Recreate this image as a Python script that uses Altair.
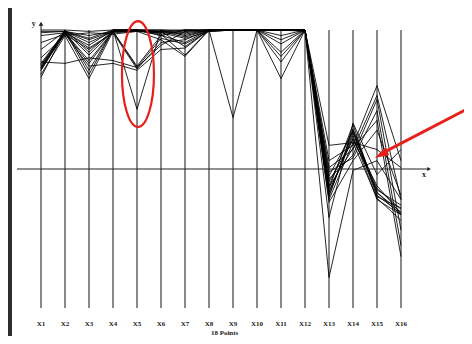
import altair as alt
import pandas as pd

# ---------------- data (axis range -1 .. 1) ----------------
axis_ids = list(range(1, 17))
axis_labels = [f"X{k}" for k in axis_ids]
x_title = "18 Points"

x1 = [1.00, 0.99, 0.98, 0.96, 0.91, 0.86, 0.80, 0.77, 0.76, 0.75, 0.74, 0.73, 0.73, 0.72, 0.71, 0.71, 0.68, 0.66]
x2 = [1.00, 0.99, 0.99, 0.98, 0.97, 0.99, 0.96, 0.76, 0.99, 0.98, 1.00, 0.99, 0.97, 0.99, 0.98, 1.00, 0.96, 0.99]
x3 = [0.99, 0.96, 0.93, 0.89, 0.86, 0.82, 0.65, 0.80, 0.68, 0.76, 0.71, 0.87, 0.74, 0.91, 0.78, 0.84, 0.98, 0.94]
x4 = [1.00, 0.99, 0.99, 1.00, 0.98, 0.99, 0.99, 0.78, 1.00, 0.99, 1.00, 0.98, 0.76, 0.99, 0.99, 1.00, 0.97, 1.00]
x5 = [1.00, 1.00, 0.99, 1.00, 0.99, 1.00, 0.99, 0.73, 0.43, 0.73, 1.00, 0.72, 0.71, 0.99, 0.74, 1.00, 0.99, 1.00]
x6 = [1.00, 0.99, 0.98, 0.96, 0.99, 0.96, 0.93, 0.89, 1.00, 0.94, 0.97, 0.91, 0.86, 0.99, 0.96, 0.99, 0.98, 1.00]
x7 = [1.00, 0.97, 0.94, 0.91, 0.88, 1.00, 0.81, 0.99, 0.96, 0.90, 0.82, 0.93, 0.87, 0.98, 1.00, 0.95, 1.00, 0.99]
x8 = [1.00, 1.00, 0.99, 1.00, 1.00, 0.99, 1.00, 1.00, 1.00, 0.99, 1.00, 1.00, 1.00, 1.00, 1.00, 1.00, 1.00, 1.00]
x9 = [1.00, 1.00, 1.00, 1.00, 0.37, 1.00, 1.00, 1.00, 1.00, 1.00, 1.00, 1.00, 1.00, 1.00, 1.00, 1.00, 1.00, 1.00]
x10 = [1.00] * 18
x11 = [1.00, 1.00, 0.93, 1.00, 1.00, 0.84, 1.00, 0.77, 1.00, 0.65, 1.00, 0.90, 1.00, 0.81, 1.00, 1.00, 0.96, 1.00]
x12 = [1.00, 1.00, 1.00, 1.00, 1.00, 1.00, 0.99, 1.00, 1.00, 1.00, 1.00, 1.00, 1.00, 1.00, 1.00, 1.00, 1.00, 1.00]
x13 = [-0.12, -0.14, -0.05, -0.17, 0.01, 0.06, -0.20, -0.07, -0.09, -0.02, -0.16, -0.19, -0.13, -0.22, -0.24, 0.17, -0.35, -0.78]
x14 = [0.29, 0.32, 0.27, 0.24, 0.14, 0.17, 0.28, 0.10, 0.21, 0.08, 0.22, 0.26, 0.15, 0.19, 0.06, 0.19, 0.33, -0.01]
x15 = [-0.17, -0.19, -0.14, -0.22, 0.53, 0.60, -0.20, 0.50, -0.12, 0.42, -0.15, -0.17, 0.35, -0.21, 0.28, 0.14, -0.04, 0.06]
x16 = [-0.31, -0.32, -0.29, -0.33, -0.22, 0.06, -0.28, -0.44, -0.32, -0.55, -0.26, -0.33, -0.63, -0.37, -0.19, 0.01, 0.14, -0.22]

columns = [x1, x2, x3, x4, x5, x6, x7, x8, x9, x10, x11, x12, x13, x14, x15, x16]

rows = []
for a, vals in zip(axis_ids, columns):
    for p, v in enumerate(vals, start=1):
        rows.append({"axis": a, "point": p, "value": v})
df = pd.DataFrame(rows)

axes_df = pd.DataFrame({
    "axis": axis_ids,
    "label": axis_labels,
    "lo": [-1.0] * 16,
    "hi": [1.05] + [1.0] * 15,
})

# ---------------- scales ----------------
xs = alt.Scale(domain=[0, 17.25], nice=False, zero=False)
ys = alt.Scale(domain=[-1, 1], nice=False, zero=False)

FONT = "Liberation Serif"
RED = "#e8201a"
INK = "#1a1a1a"


def one(**kw):
    return alt.Chart(pd.DataFrame([kw if kw else {"k": 0}]))


# left dark strip of the scanned page
strip = one().mark_rect(color="#2e2e2e").encode(
    x=alt.value(-9), x2=alt.value(-5), y=alt.value(-22), y2=alt.value(306)
)

# vertical parallel axes
vaxes = alt.Chart(axes_df).mark_rule(color="#3a3a3a", strokeWidth=1.2).encode(
    x=alt.X("axis:Q", scale=xs, axis=None),
    y=alt.Y("lo:Q", scale=ys, axis=None),
    y2="hi:Q",
)

# axis name labels under each parallel axis
axis_text = alt.Chart(axes_df).mark_text(
    font=FONT, fontSize=7, fontWeight="bold", color=INK, baseline="middle"
).encode(
    x=alt.X("axis:Q", scale=xs, axis=None),
    y=alt.value(294),
    text="label:N",
)

title_text = one(t=x_title).mark_text(
    font=FONT, fontSize=7, fontWeight="bold", color=INK, baseline="middle"
).encode(x=alt.X(datum=8.65, scale=xs, axis=None), y=alt.value(303), text="t:N")

# horizontal x axis
haxis = one().mark_rule(color="#222", strokeWidth=1.1).encode(
    x=alt.X(datum=0, scale=xs, axis=None),
    x2=alt.X2(datum=17.15),
    y=alt.Y(datum=0, scale=ys, axis=None),
)

lines = alt.Chart(df).mark_line(color="#000", strokeWidth=1.0, opacity=0.85).encode(
    x=alt.X("axis:Q", scale=xs, axis=None),
    y=alt.Y("value:Q", scale=ys, axis=None),
    detail="point:N",
    order="axis:Q",
)

y_arrow = one().mark_point(
    shape="triangle-up", size=22, filled=True, color="#222", opacity=1
).encode(x=alt.X(datum=1, scale=xs, axis=None), y=alt.Y(datum=1.045, scale=ys, axis=None))

x_arrow = one().mark_point(
    shape="triangle-right", size=18, filled=True, color="#222", opacity=1
).encode(x=alt.X(datum=17.17, scale=xs, axis=None), y=alt.Y(datum=0, scale=ys, axis=None))

y_label = one(t="y").mark_text(
    font=FONT, fontSize=8, fontWeight="bold", color="#222"
).encode(x=alt.X(datum=0.7, scale=xs, axis=None), y=alt.Y(datum=1.045, scale=ys, axis=None), text="t:N")

x_label = one(t="x").mark_text(
    font=FONT, fontSize=8, fontWeight="bold", color="#222"
).encode(x=alt.X(datum=16.96, scale=xs, axis=None), y=alt.Y(datum=-0.04, scale=ys, axis=None), text="t:N")

# red annotations
ellipse = one().mark_point(
    shape="M -0.302 0 A 0.302 1 0 1 0 0.302 0 A 0.302 1 0 1 0 -0.302 0 Z",
    size=11236, filled=False, stroke=RED, strokeWidth=2.2, opacity=1,
).encode(x=alt.X(datum=5.04, scale=xs, axis=None), y=alt.Y(datum=0.683, scale=ys, axis=None))

arrow_shaft = one().mark_rule(color=RED, strokeWidth=3).encode(
    x=alt.X(datum=18.85, scale=xs, axis=None), x2=alt.X2(datum=15.12),
    y=alt.Y(datum=0.44, scale=ys, axis=None), y2=alt.Y2(datum=0.105),
)

arrow_head = one().mark_point(
    shape="M 0 -1 L 0.6 1 L -0.6 1 Z", size=200, angle=242,
    filled=True, color=RED, opacity=1,
).encode(x=alt.X(datum=15.17, scale=xs, axis=None), y=alt.Y(datum=0.103, scale=ys, axis=None))

chart = alt.layer(
    vaxes, lines, strip, haxis, axis_text, title_text, y_arrow, x_arrow, y_label, x_label,
    ellipse, arrow_shaft, arrow_head,
).properties(
    width=414, height=278,
    autosize=alt.AutoSizeParams(type="none"),
    padding={"left": 9, "top": 22, "right": 33, "bottom": 28},
    background="white",
).configure_view(stroke=None)

chart.save("out.html", embed_options={"renderer": "svg", "actions": False})
